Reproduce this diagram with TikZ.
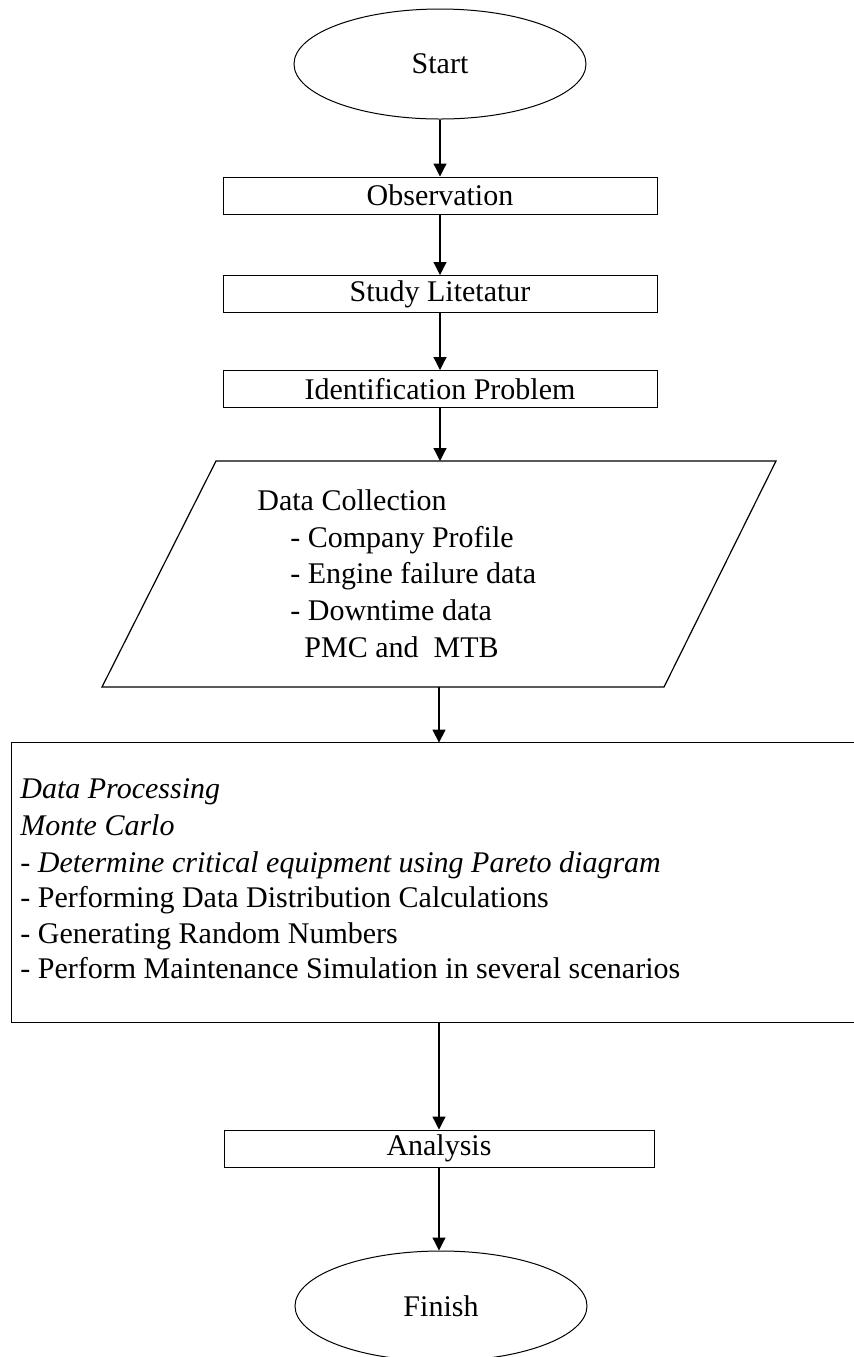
\documentclass[tikz,border=0pt]{standalone}
\usepackage{fontspec}
\setmainfont{Liberation Serif}
\usetikzlibrary{shapes.geometric,arrows.meta}

\tikzset{
  txt/.style={font=\fontsize{15}{18}\selectfont, inner sep=0pt},
  stepbox/.style={draw, rectangle, line width=0.5pt, minimum width=217pt,
                  minimum height=18.5pt, inner sep=0pt, txt},
  term/.style={draw, ellipse, line width=0.5pt, minimum width=146pt,
               minimum height=55pt, inner sep=0pt, txt},
  line/.style={line width=0.6pt},
  arr/.style={line, -{Triangle[length=6.5pt,width=6.5pt]}},
  listline/.style={txt, anchor=base west},
}

\begin{document}
\begin{tikzpicture}[x=0.5pt,y=-0.5pt]
  \useasboundingbox (0,0) rectangle (854,1357);

  % terminals and process steps
  \node[term] (start) at (440,64) {Start};
  \node[stepbox] (obs) at (440,195.5) {Observation};
  \node[stepbox] (lit) at (440,294) {Study Litetatur};
  \node[stepbox] (idp) at (440,389) {Identification Problem};

  % input / output parallelogram for data collection
  \coordinate (pin) at (440,461);
  \coordinate (pout) at (439,687);
  \draw[line] (216,461) -- (776,461) -- (664,687) -- (102,687) -- cycle;
  \node[listline] (dc0) at (257,510) {Data Collection};
  \node[listline] (dc1) at (290,547) {- Company Profile};
  \node[listline] (dc2) at (290,583) {- Engine failure data};
  \node[listline] (dc3) at (290,620) {- Downtime data};
  \node[listline] (dc4) at (304,657) {PMC and~~MTB};

  % data processing block (runs off the right edge)
  \node[draw=none, rectangle, minimum width=421pt, minimum height=139.5pt,
        inner sep=0pt] (proc) at (433,882.5) {};
  \draw[line] (proc.north east) -- (proc.north west) -- (proc.south west)
              -- (proc.south east);
  \node[listline] (dp1) at (20,798) {\itshape Data Processing};
  \node[listline] (dp2) at (20,835) {\itshape Monte Carlo};
  \node[listline] (dp3) at (20,872) {\itshape - Determine critical equipment using Pareto diagram};
  \node[listline] (dp4) at (20,907) {- Performing Data Distribution Calculations};
  \node[listline] (dp5) at (20,943) {- Generating Random Numbers};
  \node[listline] (dp6) at (20,978) {- Perform Maintenance Simulation in several scenarios};

  \node[stepbox, minimum width=215pt] (ana) at (439,1148.5) {Analysis};
  \node[term] (fin) at (441,1306) {Finish};

  % connectors
  \draw[arr] (start.south) -- (obs.north);
  \draw[arr] (obs.south) -- (lit.north);
  \draw[arr] (lit.south) -- (idp.north);
  \draw[arr] (idp.south) -- (pin);
  \draw[arr] (pout) -- (pout |- proc.north);
  \draw[arr] (ana.north |- proc.south) -- (ana.north);
  \draw[arr] (ana.south) -- (ana.south |- fin.north);
\end{tikzpicture}
\end{document}
